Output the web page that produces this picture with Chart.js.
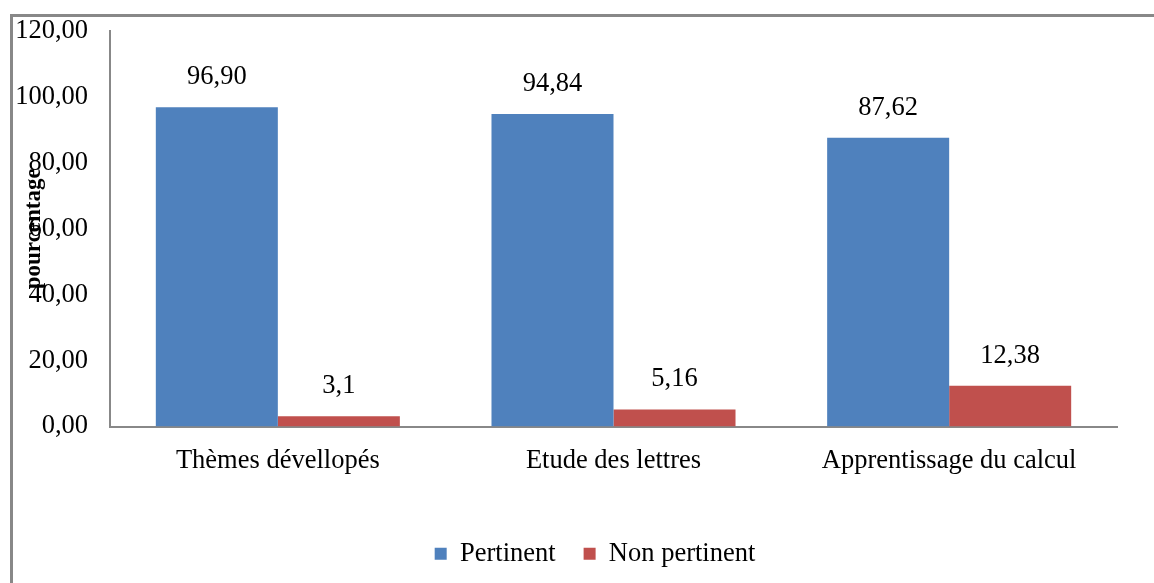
<!DOCTYPE html>
<html>
<head>
<meta charset="utf-8">
<script src="https://cdn.jsdelivr.net/npm/chart.js@4"></script>
<style>
html,body{margin:0;padding:0;background:#fff;}
#frame{position:absolute;left:10px;top:14px;width:1144px;height:569px;border-top:3px solid #888;border-left:3px solid #888;box-sizing:border-box;}
#wrap{position:absolute;left:0;top:0;width:1154px;height:583px;}
</style>
</head>
<body>
<div id="frame"></div>
<div id="wrap"><canvas id="c" width="1154" height="583"></canvas></div>
<script>
const categories = ["Thèmes dévellopés", "Etude des lettres", "Apprentissage du calcul"];
const pertinent = [96.90, 94.84, 87.62];
const nonPertinent = [3.1, 5.16, 12.38];
const pertinentLabels = ["96,90", "94,84", "87,62"];
const nonPertinentLabels = ["3,1", "5,16", "12,38"];
const seriesNames = ["Pertinent", "Non pertinent"];
const axisTitle = "pourcentage";

const FONT = "'Liberation Serif', 'DejaVu Serif', serif";
const FS = 26.5;

const labelPlugin = {
  id: 'valueLabels',
  afterLayout(chart) {
    // centre the legend under the plot area like the original
    if (chart.legend) { chart.legend.left = 73; }
  },
  afterDatasetsDraw(chart) {
    const ctx = chart.ctx;
    const lbls = [pertinentLabels, nonPertinentLabels];
    ctx.save();
    ctx.font = FS + "px " + FONT;
    ctx.fillStyle = "#000";
    ctx.textAlign = "center";
    ctx.textBaseline = "middle";
    chart.data.datasets.forEach((ds, i) => {
      chart.getDatasetMeta(i).data.forEach((bar, j) => {
        ctx.fillText(lbls[i][j], bar.x, bar.y - 30);
      });
    });
    ctx.restore();
  },
  afterDraw(chart) {
    const ctx = chart.ctx;
    const a = chart.chartArea;
    ctx.save();
    ctx.font = "bold 23px " + FONT;
    ctx.fillStyle = "#000";
    ctx.textAlign = "center";
    ctx.textBaseline = "middle";
    ctx.translate(34, (a.top + a.bottom) / 2);
    ctx.rotate(-Math.PI / 2);
    ctx.fillText(axisTitle, 0, 0);
    ctx.restore();
  }
};

new Chart(document.getElementById('c'), {
  type: 'bar',
  data: {
    labels: categories,
    datasets: [
      { label: seriesNames[0], data: pertinent, backgroundColor: '#4F81BD' },
      { label: seriesNames[1], data: nonPertinent, backgroundColor: '#C0504D' }
    ]
  },
  options: {
    responsive: false,
    animation: false,
    devicePixelRatio: 1,
    layout: { padding: { left: 0, right: 37, top: 31, bottom: 6 } },
    datasets: { bar: { categoryPercentage: 0.727, barPercentage: 1.0 } },
    plugins: {
      legend: {
        position: 'bottom',
        labels: {
          boxWidth: 12, boxHeight: 12, padding: 28,
          color: '#000',
          font: { family: FONT, size: FS }
        }
      },
      tooltip: { enabled: false }
    },
    scales: {
      x: {
        grid: { display: false, drawTicks: false },
        border: { display: true, color: '#888', width: 2 },
        ticks: { color: '#000', font: { family: FONT, size: FS }, padding: 19, maxRotation: 0 },
        afterFit(s) { s.height = 86; }
      },
      y: {
        min: 0, max: 120,
        grid: { display: false, drawOnChartArea: false, drawTicks: true, tickLength: 7, color: '#888', lineWidth: 1.5 },
        border: { display: true, color: '#888', width: 2 },
        ticks: {
          stepSize: 20, color: '#000', padding: 15,
          font: { family: FONT, size: FS },
          callback: v => v.toFixed(2).replace('.', ',')
        },
        afterFit(s) { s.width = 110; }
      }
    }
  },
  plugins: [labelPlugin]
});
</script>
</body>
</html>
